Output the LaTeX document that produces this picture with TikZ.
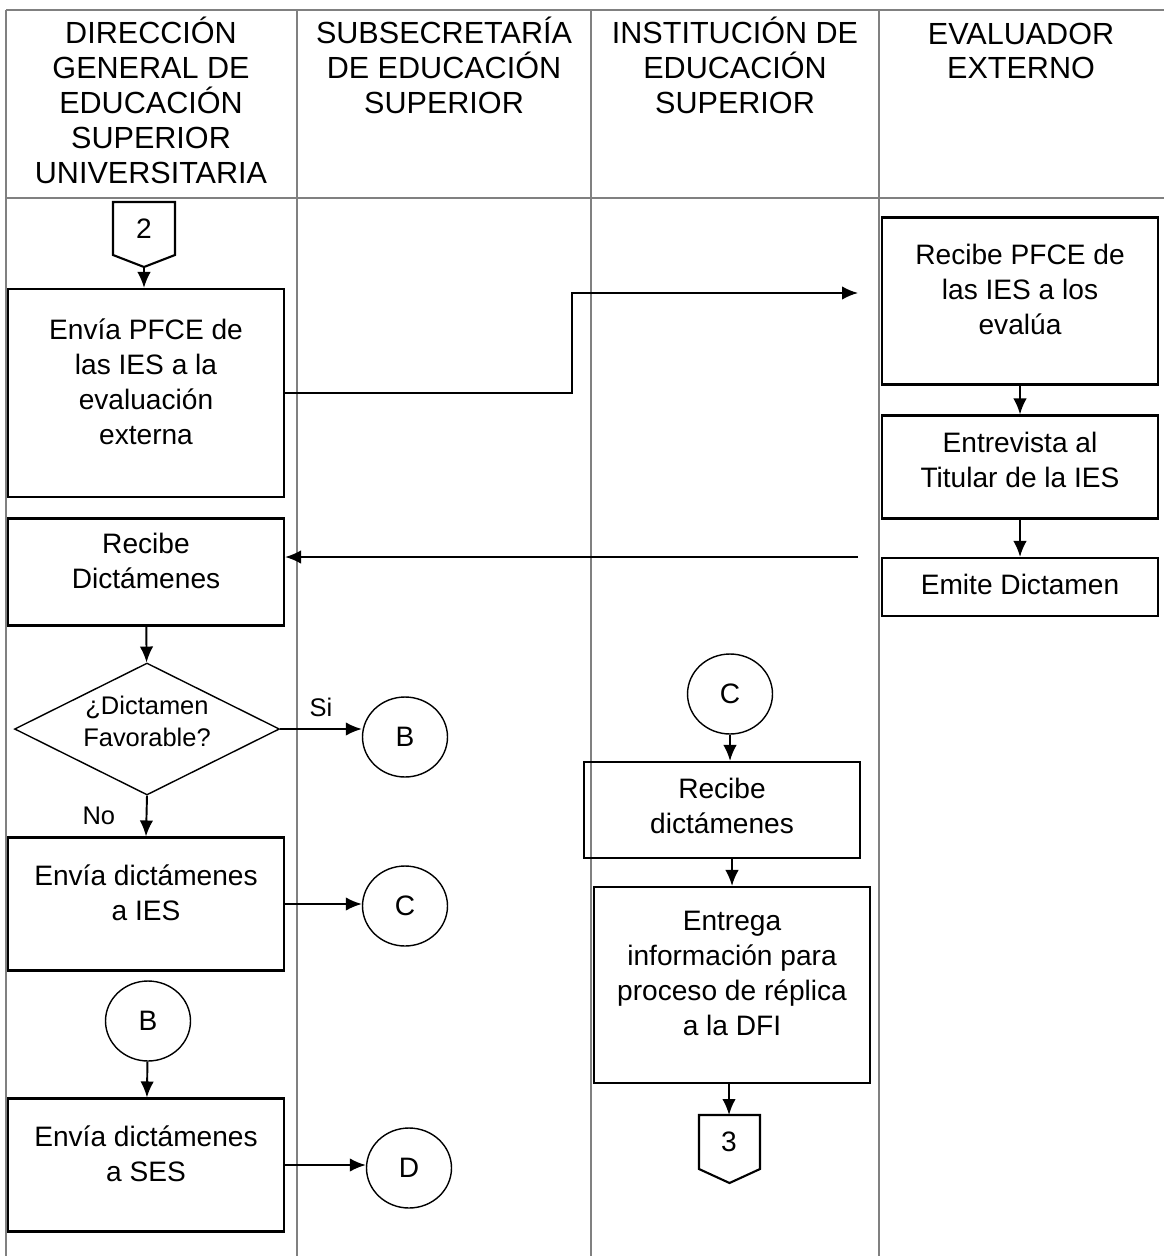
\documentclass[tikz,border=0pt]{standalone}
\usepackage{fontspec}
\setmainfont{Liberation Sans}
\usetikzlibrary{shapes.geometric,arrows.meta}

\tikzset{
	caja/.style={draw, line width=1.2pt, minimum width=5.52cm, align=center, inner sep=0pt, text depth=0.45cm, font=\fontsize{16}{19.9}\selectfont},
	circulo/.style={draw, ellipse, line width=0.8pt, minimum width=1.7cm, minimum height=1.6cm, inner sep=0pt, font=\fontsize{16}{19.9}\selectfont},
	rombo/.style={draw, diamond, aspect=2, line width=0.8pt, minimum width=5.3cm, minimum height=2.64cm, inner sep=0pt, align=center, text depth=0.3cm, font=\fontsize{14.5}{18.2}\selectfont},
	flecha/.style={-{Latex[length=0.32cm,width=0.27cm]}, line width=1.1pt},
	carril/.style={draw=gray, line width=0.6pt},
	titulo/.style={align=center, font=\fontsize{17.4}{19.9}\selectfont},
	etiqueta/.style={font=\fontsize{14.5}{17}\selectfont},
	numero/.style={font=\fontsize{16}{19}\selectfont},
	pagina/.style={line width=1.2pt},
}

\begin{document}
\begin{tikzpicture}[x=0.02cm, y=-0.02cm]
		\useasboundingbox (0,0) rectangle (1164,1256);
		% carriles
		\draw[carril] (6,10) -- (1164,10);
		\draw[carril] (6,198) -- (1164,198);
		\foreach \cx in {6,297,591,879}
			\draw[carril] (\cx,10) -- (\cx,1256);
		\node[titulo] (t1) at (151,100) {DIRECCIÓN\\GENERAL DE\\EDUCACIÓN\\SUPERIOR\\UNIVERSITARIA};
		\node[titulo] (t2) at (444,65) {SUBSECRETARÍA\\DE EDUCACIÓN\\SUPERIOR};
		\node[titulo] (t3) at (735,65) {INSTITUCIÓN DE\\EDUCACIÓN\\SUPERIOR};
		\node[titulo] (t4) at (1021,51) {EVALUADOR\\EXTERNO};

		% conector de pagina 2
		\draw[pagina] (113,202) -- (175,202) -- (175,255) -- (144,267) -- (113,255) -- cycle;
		\node[numero] (n2) at (144,229) {2};
		\coordinate (n2p) at (144,267);

		\node[caja, minimum height=4.16cm] (envpfce) at (146,393) {Envía PFCE de\\las IES a la\\evaluación\\externa};
		\node[caja, minimum height=2.14cm] (recdict) at (146,572) {Recibe\\Dictámenes};
		\node[rombo] (dec) at (147,729) {¿Dictamen\\Favorable?};
		\node[caja, minimum height=2.66cm] (envies) at (146,904) {Envía dictámenes\\a IES};
		\node[circulo] (cb2) at (148,1021) {B};
		\node[caja, minimum height=2.66cm] (envses) at (146,1165) {Envía dictámenes\\a SES};

		\node[circulo] (cb) at (405,737) {B};
		\node[circulo] (cc) at (405,906) {C};
		\node[circulo] (cd) at (409,1168) {D};

		\node[circulo] (cc2) at (730,694) {C};
		\node[caja, minimum height=1.92cm, text depth=0.15cm] (recies) at (722,810) {Recibe\\dictámenes};
		\node[caja, minimum height=3.92cm] (entrega) at (732,985) {Entrega\\información para\\proceso de réplica\\a la DFI};

		% conector de pagina 3
		\draw[pagina] (699,1115) -- (760,1115) -- (760,1169) -- (729.5,1183) -- (699,1169) -- cycle;
		\node[numero] (n3) at (729,1142) {3};
		\coordinate (n3t) at (729,1115);

		\node[caja, minimum height=3.34cm] (recpfce) at (1020,301) {Recibe PFCE de\\las IES a los\\evalúa};
		\node[caja, minimum height=2.06cm, text depth=0.3cm] (entrev) at (1020,467) {Entrevista al\\Titular de la IES};
		\node[caja, minimum height=1.16cm, text depth=0.1cm] (emite) at (1020,587) {Emite Dictamen};

		% flechas
		\coordinate (q1) at (572,293);
		\coordinate (q2) at (858,293);
		\coordinate (q3) at (858,557);
		\draw[flecha] (n2p) -- (n2p |- envpfce.north);
		\draw[flecha] (envpfce.east) -| (q1) -- (q2);
		\draw[flecha] (recpfce) -- (entrev);
		\draw[flecha] (entrev) -- (emite);
		\draw[flecha] (q3) -- (recdict.east |- q3);
		\draw[flecha] (recdict) -- (dec);
		\draw[flecha] (dec.east) -- (cb.west |- dec.east) node[etiqueta, midway, above=3pt] (si) {Si};
		\draw[flecha] (dec.south) -- (envies.north) node[etiqueta, midway, left=14pt] (no) {No};
		\draw[flecha] (envies.east) -- (envies.east -| cc.west);
		\draw[flecha] (cb2) -- (envses);
		\draw[flecha] (envses.east) -- (envses.east -| cd.west);
		\draw[flecha] (cc2.south) -- (cc2.south |- recies.north);
		\draw[flecha] (entrega.north |- recies.south) -- (entrega.north);
		\draw[flecha] (entrega.south -| n3t) -- (n3t);
	\end{tikzpicture}
\end{document}
